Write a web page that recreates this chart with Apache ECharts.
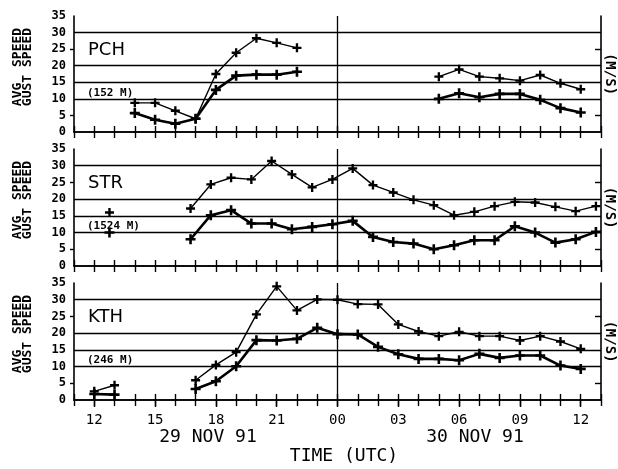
<!DOCTYPE html>
<html>
<head>
<meta charset="utf-8">
<script src="https://cdn.jsdelivr.net/npm/echarts@6/dist/echarts.min.js"></script>
<style>
  html, body { margin: 0; padding: 0; background: #fff; }
  #chart { width: 618px; height: 469px; }
</style>
</head>
<body>
<div id="chart"></div>
<script>
// Hourly wind observations, 29-30 Nov 1991 (hours counted from 00 UTC 29 Nov).
// null = no observation.
const stations = ['PCH', 'STR', 'KTH'];
const heights = ['(152 M)', '(1524 M)', '(246 M)'];

const pchStart = 14;
const pchGust = [8.8, 8.8, 6.4, 4.0, 17.5, 23.9, 28.3, 26.9, 25.4,
  null, null, null, null, null, null,
  16.7, 18.9, 16.7, 16.2, 15.5, 17.2, 14.7, 12.9];
const pchAvg = [5.7, 3.7, 2.5, 4.0, 12.7, 17.0, 17.3, 17.3, 18.2,
  null, null, null, null, null, null,
  10.0, 11.7, 10.5, 11.5, 11.5, 9.7, 7.2, 5.9];

const strStart = 12.75;
const strGust = [16.0, null, null, null,
  17.2, 24.4, 26.4, 25.9, 31.4, 27.4, 23.5, 25.9, 29.2, 24.2, 22.0,
  19.8, 18.2, 15.2, 16.2, 17.9, 19.2, 19.0, 17.7, 16.4, 17.9];
const strAvg = [10.0, null, null, null,
  8.0, 15.2, 16.7, 12.7, 12.7, 11.0, 11.7, 12.5, 13.5, 8.7, 7.2,
  6.7, 5.0, 6.2, 7.7, 7.7, 11.9, 10.0, 7.0, 8.0, 10.2];

const kthStart = 12;
const kthGust = [2.6, 4.4, null, null, null,
  5.9, 10.5, 14.3, 25.6, 34.0, 26.8, 30.1, 30.0, 28.7, 28.6, 22.6,
  20.5, 19.1, 20.4, 19.1, 19.1, 17.8, 19.1, 17.5, 15.3];
const kthAvg = [1.8, 1.6, null, null, null,
  3.3, 5.6, 10.1, 17.9, 17.8, 18.3, 21.6, 19.7, 19.6, 15.9, 13.7,
  12.3, 12.3, 11.9, 13.8, 12.6, 13.3, 13.3, 10.3, 9.3];

// Axis ranges and reference lines
const hourMin = 11, hourMax = 37;
const majorHours = [12, 15, 18, 21, 24, 27, 30, 33, 36];
const speedTicks = [5, 25];
const gridSpeeds = [10, 15, 20, 30];
const midnight = 24;
const dayLabels = ['29 NOV 91', '30 NOV 91'];

const sets = [
  { start: pchStart, gust: pchGust, avg: pchAvg },
  { start: strStart, gust: strGust, avg: strAvg },
  { start: kthStart, gust: kthGust, avg: kthAvg }
];

function pairs(start, vals) {
  return vals.map((v, i) => [start + i, v == null ? '-' : v]);
}

const FONT_MONO = '"DejaVu Sans Mono", monospace';
const plus = 'path://M-1.3,-5H1.3V-1.3H5V1.3H1.3V5H-1.3V1.3H-5V-1.3H-1.3Z';

const L = 74, W = 527;
const tops = [16, 149, 283];
const hts = [116, 117, 117];

const grids = [], xAxes = [], yAxes = [], series = [], graphics = [];

sets.forEach((s, g) => {
  grids.push({ left: L, top: tops[g], width: W, height: hts[g], show: false });
  const isLast = g === sets.length - 1;
  const baseX = {
    type: 'value', gridIndex: g, min: hourMin, max: hourMax, interval: 1,
    axisLine: { show: true, lineStyle: { color: '#000', width: 1.6 } },
    axisTick: { show: true, inside: true, length: 6, lineStyle: { color: '#000', width: 1.4 } },
    axisLabel: { show: false },
    splitLine: { show: false }
  };
  const xb = xAxes.length;
  xAxes.push(Object.assign({}, baseX, { position: 'bottom' }));
  xAxes.push(Object.assign({}, baseX, { position: 'top' }));
  if (isLast) {
    xAxes.push({
      type: 'value', gridIndex: g, min: hourMin, max: hourMax, position: 'bottom',
      axisLine: { show: false },
      axisTick: { show: true, inside: false, length: 7, customValues: majorHours,
        lineStyle: { color: '#000', width: 1.4 } },
      axisLabel: { show: true, customValues: majorHours, margin: 13,
        color: '#000', fontFamily: FONT_MONO, fontSize: 14,
        formatter: v => String(v % 24).padStart(2, '0') },
      splitLine: { show: false }
    });
  }
  const yl = yAxes.length;
  yAxes.push({
    type: 'value', gridIndex: g, min: 0, max: 35, interval: 5, position: 'left',
    axisLine: { show: true, lineStyle: { color: '#000', width: 1.6 } },
    axisTick: { show: true, inside: false, length: 4, customValues: speedTicks,
      lineStyle: { color: '#000', width: 1.4 } },
    axisLabel: { show: true, margin: 8, color: '#000', fontFamily: FONT_MONO,
      fontWeight: 'bold', fontSize: 12 },
    splitLine: { show: false }
  });
  yAxes.push({
    type: 'value', gridIndex: g, min: 0, max: 35, interval: 5, position: 'right',
    axisLine: { show: true, lineStyle: { color: '#000', width: 1.6 } },
    axisTick: { show: true, inside: true, length: 6, customValues: speedTicks,
      lineStyle: { color: '#000', width: 1.4 } },
    axisLabel: { show: false },
    splitLine: { show: false }
  });

  series.push({
    type: 'line', name: stations[g] + ' gust', xAxisIndex: xb, yAxisIndex: yl,
    data: pairs(s.start, s.gust), connectNulls: false,
    symbol: plus, symbolSize: 9, showAllSymbol: true,
    lineStyle: { color: '#000', width: 1.4 },
    itemStyle: { color: '#000' },
    z: 4,
    markLine: {
      silent: true, symbol: 'none', label: { show: false },
      lineStyle: { color: '#000', width: 1.3, type: 'solid' },
      data: gridSpeeds.map(v => ({ yAxis: v })).concat([{ xAxis: midnight }])
    }
  });
  series.push({
    type: 'line', name: stations[g] + ' avg', xAxisIndex: xb, yAxisIndex: yl,
    data: pairs(s.start, s.avg), connectNulls: false,
    symbol: plus, symbolSize: 10, showAllSymbol: true,
    lineStyle: { color: '#000', width: 2.6 },
    itemStyle: { color: '#000' },
    z: 5
  });

  // panel annotations
  graphics.push({ type: 'text', x: 88, y: tops[g] + 34.5,
    style: { text: stations[g], font: '18px "DejaVu Sans", sans-serif', fill: '#000',
      align: 'left', verticalAlign: 'middle' } });
  graphics.push({ type: 'text', x: 87, y: tops[g] + 77,
    style: { text: heights[g], font: 'bold 11px ' + FONT_MONO, fill: '#000',
      align: 'left', verticalAlign: 'middle' } });
  graphics.push({ type: 'text', x: 17.5, y: tops[g] + 51, rotation: Math.PI / 2,
    style: { text: 'AVG  SPEED', font: 'bold 13px ' + FONT_MONO, fill: '#000',
      align: 'center', verticalAlign: 'middle' } });
  graphics.push({ type: 'text', x: 28, y: tops[g] + 51, rotation: Math.PI / 2,
    style: { text: 'GUST SPEED', font: 'bold 13px ' + FONT_MONO, fill: '#000',
      align: 'center', verticalAlign: 'middle' } });
  graphics.push({ type: 'text', x: 610, y: tops[g] + hts[g] / 2, rotation: -Math.PI / 2,
    style: { text: '(M/S)', font: 'bold 14px ' + FONT_MONO, fill: '#000',
      align: 'center', verticalAlign: 'middle' } });
});

graphics.push({ type: 'text', x: 208, y: 437,
  style: { text: dayLabels[0], font: '18px ' + FONT_MONO, fill: '#000', align: 'center', verticalAlign: 'middle' } });
graphics.push({ type: 'text', x: 475, y: 437,
  style: { text: dayLabels[1], font: '18px ' + FONT_MONO, fill: '#000', align: 'center', verticalAlign: 'middle' } });
graphics.push({ type: 'text', x: 344, y: 456,
  style: { text: 'TIME (UTC)', font: '18px ' + FONT_MONO, fill: '#000', align: 'center', verticalAlign: 'middle' } });

const chart = echarts.init(document.getElementById('chart'), null, { renderer: 'canvas' });
chart.setOption({
  backgroundColor: '#fff',
  animation: false,
  grid: grids,
  xAxis: xAxes,
  yAxis: yAxes,
  series: series,
  graphic: graphics
});
</script>
</body>
</html>
